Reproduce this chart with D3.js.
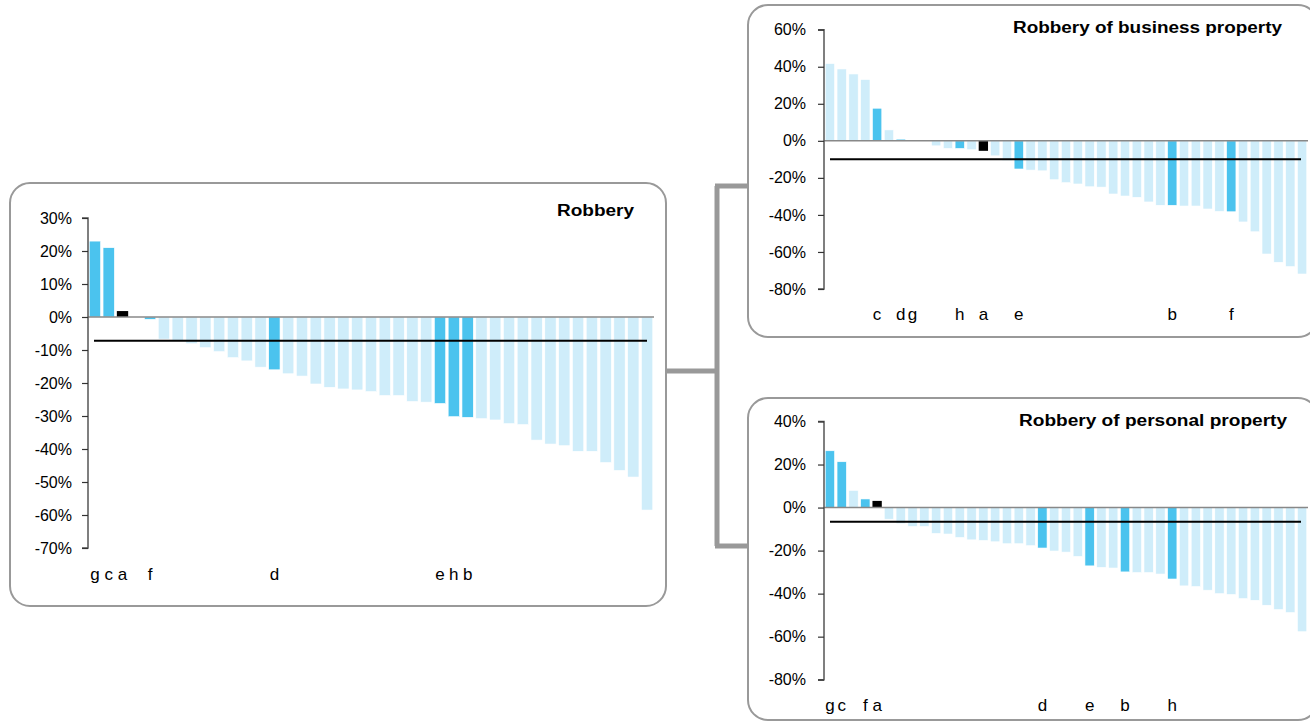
<!DOCTYPE html>
<html><head><meta charset="utf-8">
<script src="https://cdn.jsdelivr.net/npm/d3@7"></script>
<style>
html,body{margin:0;padding:0;background:#fff;}
svg{display:block;font-family:"Liberation Sans",Arial,sans-serif;}
</style></head>
<body><svg id="c" width="1310" height="725"></svg>
<script>
// ---------- DATA ----------
const robberyValues = [23.0,21.0,1.8,0,-0.7,-6.7,-7.1,-8.1,-9.3,-10.5,-12.3,-13.3,-15.2,-16.0,-17.2,-17.9,-20.3,-21.3,-21.8,-22.1,-22.6,-23.8,-23.8,-25.6,-25.8,-26.2,-30.2,-30.4,-30.8,-31.2,-32.3,-32.6,-37.3,-38.5,-39.0,-40.7,-40.7,-44.1,-46.5,-48.5,-58.5];
const robberyLabels = {0:"g",1:"c",2:"a",4:"f",13:"d",25:"e",26:"h",27:"b"};
const robberyDark = [0,1,4,13,25,26,27];
const robberyBlack = [2];
const robberyMean = -7.2;
const robberyTicks = [30,20,10,0,-10,-20,-30,-40,-50,-60,-70];

const businessValues = [41.7,38.8,36.1,33.1,17.6,5.9,0.9,0,0,-2.7,-4.1,-4.1,-4.8,-5.4,-8.1,-10.6,-15.2,-15.8,-16.2,-21.0,-22.6,-23.3,-24.8,-25.0,-28.7,-29.8,-30.5,-33.0,-34.8,-34.8,-35.2,-35.2,-36.8,-38.1,-38.3,-43.8,-49.1,-61.1,-65.6,-67.9,-71.9];
const businessLabels = {4:"c",6:"d",7:"g",11:"h",13:"a",16:"e",29:"b",34:"f"};
const businessDark = [4,6,11,16,29,34];
const businessBlack = [13];
const businessMean = -10.0;
const businessTicks = [60,40,20,0,-20,-40,-60,-80];

const personalValues = [26.4,21.3,8.0,4.0,3.1,-5.4,-7.5,-8.8,-8.8,-12.0,-12.3,-13.9,-15.0,-15.3,-15.9,-16.8,-16.8,-17.7,-18.8,-20.2,-20.7,-22.7,-27.1,-27.8,-28.1,-29.9,-30.2,-30.2,-30.9,-33.2,-36.4,-36.7,-38.4,-40.0,-40.4,-42.3,-43.1,-45.4,-47.4,-48.8,-57.7];
const personalLabels = {0:"g",1:"c",3:"f",4:"a",18:"d",22:"e",25:"b",29:"h"};
const personalDark = [0,1,3,18,22,25,29];
const personalBlack = [4];
const personalMean = -6.6;
const personalTicks = [40,20,0,-20,-40,-60,-80];

const titles = ["Robbery","Robbery of business property","Robbery of personal property"];

// ---------- STYLE ----------
const DARK="#4BC3EE", LIGHT="#CFEDFA", BLACK="#000000", BOXC="#999999";
const svg = d3.select("#c");

function box(x,y,w,h){
  svg.append("rect").attr("x",x).attr("y",y).attr("width",w).attr("height",h)
    .attr("rx",20).attr("ry",20).attr("fill","#fff").attr("stroke",BOXC).attr("stroke-width",2);
}
const conn = svg.append("g").attr("stroke",BOXC).attr("stroke-width",5).attr("fill","none");
conn.append("path").attr("d","M666,371 H717 M717,186 V546 M715,186 H748 M715,546 H748");

box(10,183,656,423);
box(748,5,570,332);
box(748,398,570,322);

function panel(cfg){
  const {values,labels,dark,black,mean,ticks,title,x0,x1,yTop,yBot,vTop,vBot,labelY,titleX,titleY,titleW,tickGap,pad} = cfg;
  const g = svg.append("g");
  const idx = d3.range(values.length);
  const x = d3.scaleBand().domain(idx).range([x0,x1]).paddingInner(pad).paddingOuter(pad/2);
  const y = d3.scaleLinear().domain([vBot,vTop]).range([yBot,yTop]);
  g.selectAll("rect.bar").data(idx).enter().append("rect")
    .attr("x",i=>x(i)).attr("width",x.bandwidth())
    .attr("y",i=>y(Math.max(0,values[i])))
    .attr("height",i=>Math.abs(y(values[i])-y(0)))
    .attr("fill",i=>black.includes(i)?BLACK:(dark.includes(i)?DARK:LIGHT))
    .attr("stroke",i=>black.includes(i)?"none":"#fff").attr("stroke-width",0.6);
  g.append("line").attr("x1",x0).attr("x2",x1).attr("y1",y(0)).attr("y2",y(0))
    .attr("stroke","#888").attr("stroke-width",1.5);
  g.append("line").attr("x1",x0+6).attr("x2",x1-7).attr("y1",y(mean)).attr("y2",y(mean))
    .attr("stroke","#000").attr("stroke-width",2);
  const ax = d3.axisLeft(y).tickValues(ticks).tickSize(6).tickPadding(tickGap).tickFormat(d=>d+"%");
  const ag = g.append("g").attr("transform",`translate(${x0},0)`).call(ax);
  ag.select(".domain").attr("stroke","#555").attr("stroke-width",1.5).attr("d",`M-6,${y(vTop)}H0V${y(vBot)}H-6`);
  ag.selectAll(".tick line").attr("stroke","#333").attr("stroke-width",1.2);
  ag.selectAll(".tick text").attr("font-size",16).attr("fill","#000").attr("font-family","Liberation Sans, Arial, sans-serif");
  g.selectAll("text.cat").data(Object.keys(labels).map(Number)).enter().append("text")
    .attr("x",i=>x(i)+x.bandwidth()/2).attr("y",labelY).attr("text-anchor","middle")
    .attr("font-size",17).attr("fill","#000").text(i=>labels[i]);
  g.append("text").attr("x",titleX-titleW).attr("y",titleY).attr("text-anchor","start")
    .attr("font-size",16).attr("font-weight","bold").attr("fill","#000")
    .attr("textLength",titleW).attr("lengthAdjust","spacingAndGlyphs").text(title);
}

panel({values:robberyValues,labels:robberyLabels,dark:robberyDark,black:robberyBlack,mean:robberyMean,ticks:robberyTicks,title:titles[0],
  x0:88,x1:654,yTop:218,yBot:548,vTop:30,vBot:-70,labelY:580,titleX:634,titleY:216,titleW:77,tickGap:10,pad:0.18});
panel({values:businessValues,labels:businessLabels,dark:businessDark,black:businessBlack,mean:businessMean,ticks:businessTicks,title:titles[1],
  x0:824,x1:1308,yTop:29.7,yBot:289,vTop:60,vBot:-80,labelY:320,titleX:1282,titleY:33,titleW:269,tickGap:12,pad:0.21});
panel({values:personalValues,labels:personalLabels,dark:personalDark,black:personalBlack,mean:personalMean,ticks:personalTicks,title:titles[2],
  x0:824,x1:1308,yTop:421.5,yBot:679.7,vTop:40,vBot:-80,labelY:711,titleX:1287,titleY:426,titleW:268,tickGap:12,pad:0.21});
</script></body></html>
